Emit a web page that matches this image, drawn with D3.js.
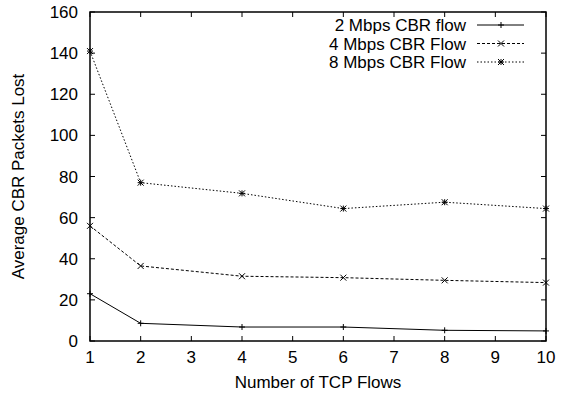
<!DOCTYPE html>
<html><head><meta charset="utf-8">
<script src="https://cdn.jsdelivr.net/npm/d3@7"></script>
<style>body{margin:0;background:#fff}svg{display:block}text{font-family:"Liberation Sans",Arial,sans-serif;fill:#000}</style>
</head><body>
<script>
const xValues = [1, 2, 4, 6, 8, 10];
const series2 = [23, 8.6, 6.8, 6.8, 5.2, 4.9];
const series4 = [56, 36.5, 31.5, 30.8, 29.5, 28.4];
const series8 = [141, 77, 71.8, 64.4, 67.5, 64.4];
const seriesNames = ["2 Mbps CBR flow", "4 Mbps CBR Flow", "8 Mbps CBR Flow"];
const xTicks = [1,2,3,4,5,6,7,8,9,10];
const yTicks = [0,20,40,60,80,100,120,140,160];

const W = 561, H = 397;
const m = {l: 90, r: 15, t: 12, b: 56};
const FS = 17;
const svg = d3.select("body").append("svg").attr("width", W).attr("height", H);
const x = d3.scaleLinear().domain([1, 10]).range([m.l, W - m.r]);
const y = d3.scaleLinear().domain([0, 160]).range([H - m.b, m.t]);
const TL = 5;

const g = svg.append("g").attr("stroke", "#000").attr("stroke-width", 1);
xTicks.forEach(t => {
  g.append("line").attr("x1", x(t)).attr("x2", x(t)).attr("y1", y(0)).attr("y2", y(0) - TL);
  g.append("line").attr("x1", x(t)).attr("x2", x(t)).attr("y1", y(160)).attr("y2", y(160) + TL);
});
yTicks.forEach(t => {
  g.append("line").attr("x1", x(1)).attr("x2", x(1) + TL).attr("y1", y(t)).attr("y2", y(t));
  g.append("line").attr("x1", x(10)).attr("x2", x(10) - TL).attr("y1", y(t)).attr("y2", y(t));
});
svg.selectAll(".xl").data(xTicks).enter().append("text")
  .attr("x", d => x(d)).attr("y", 363).attr("text-anchor", "middle").attr("font-size", FS).text(d => d);
svg.selectAll(".yl").data(yTicks).enter().append("text")
  .attr("x", 78).attr("y", d => y(d) + 6).attr("text-anchor", "end").attr("font-size", FS).text(d => d);

svg.append("text").attr("x", (x(1) + x(10)) / 2).attr("y", 388).attr("text-anchor", "middle").attr("font-size", FS).text("Number of TCP Flows");
svg.append("text").attr("transform", `translate(24,${(y(0) + y(160)) / 2}) rotate(-90)`).attr("text-anchor", "middle").attr("font-size", FS).text("Average CBR Packets Lost");

const line = d3.line().x((d, i) => x(xValues[i])).y(d => y(d));
const styles = [null, "3,2", "1.5,2"];
const data = [series2, series4, series8];

function marker(sel, k, cx, cy) {
  const s = 3;
  const gg = sel.append("g").attr("stroke", "#000").attr("stroke-width", 1);
  if (k === 0 || k === 2) {
    gg.append("line").attr("x1", cx - s).attr("x2", cx + s).attr("y1", cy).attr("y2", cy);
    gg.append("line").attr("x1", cx).attr("x2", cx).attr("y1", cy - s).attr("y2", cy + s);
  }
  if (k === 1 || k === 2) {
    gg.append("line").attr("x1", cx - s).attr("x2", cx + s).attr("y1", cy - s).attr("y2", cy + s);
    gg.append("line").attr("x1", cx - s).attr("x2", cx + s).attr("y1", cy + s).attr("y2", cy - s);
  }
}

data.forEach((vals, k) => {
  svg.append("path").datum(vals).attr("d", line).attr("fill", "none").attr("stroke", "#000")
    .attr("stroke-width", 1).attr("stroke-dasharray", styles[k]);
  vals.forEach((v, i) => marker(svg, k, x(xValues[i]), y(v)));
});

seriesNames.forEach((n, k) => {
  const ly = 25 + k * 18.5;
  svg.append("text").attr("x", 466).attr("y", ly + 6).attr("text-anchor", "end").attr("font-size", FS).text(n);
  svg.append("line").attr("x1", 477).attr("x2", 524).attr("y1", ly).attr("y2", ly)
    .attr("stroke", "#000").attr("stroke-width", 1).attr("stroke-dasharray", styles[k]);
  marker(svg, k, 501, ly);
});

svg.append("rect").attr("x", x(1)).attr("y", y(160)).attr("width", x(10) - x(1)).attr("height", y(0) - y(160))
  .attr("fill", "none").attr("stroke", "#000").attr("stroke-width", 1.5);
</script>
</body></html>
